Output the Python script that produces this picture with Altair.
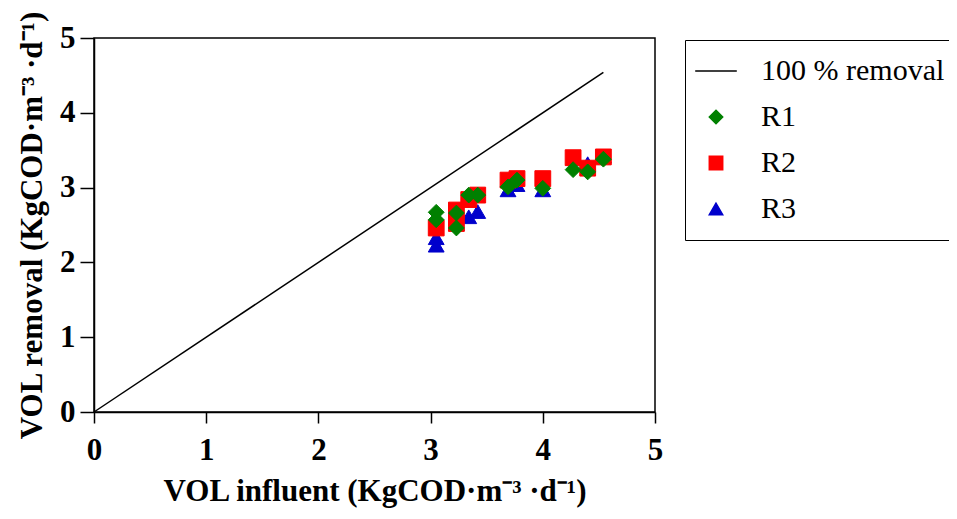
import altair as alt
import pandas as pd

series_names = ["100 % removal", "R1", "R2", "R3"]
series_colors = ["black", "green", "red", "#0000cc"]
series_shapes = ["M-3.1,0H3.1", "diamond", "square", "triangle-up"]

r1_x = [3.05, 3.05, 3.23, 3.23, 3.34, 3.42, 3.69, 3.77, 4.00, 4.27, 4.40, 4.54]
r1_y = [2.57, 2.67, 2.66, 2.46, 2.90, 2.90, 3.01, 3.10, 2.99, 3.24, 3.21, 3.38]

r2_x = [3.05, 3.23, 3.23, 3.34, 3.42, 3.69, 3.77, 4.00, 4.27, 4.40, 4.54]
r2_y = [2.46, 2.70, 2.52, 2.84, 2.90, 3.10, 3.12, 3.12, 3.40, 3.26, 3.41]

r3_x = [3.05, 3.05, 3.23, 3.34, 3.42, 3.69, 3.77, 4.00, 4.40, 4.54]
r3_y = [2.33, 2.23, 2.52, 2.61, 2.68, 2.97, 3.04, 2.97, 3.32, 3.42]

line_x = [0, 4.54]
line_y = [0, 4.54]

ticks = [0, 1, 2, 3, 4, 5]

rows = []
for name, xs, ys in [("R3", r3_x, r3_y), ("R2", r2_x, r2_y), ("R1", r1_x, r1_y)]:
    for a, b in zip(xs, ys):
        rows.append({"series": name, "x": a, "y": b})
pts = pd.DataFrame(rows)
line_df = pd.DataFrame({"x": line_x, "y": line_y})

xscale = alt.Scale(domain=[0, 5], nice=False)
yscale = alt.Scale(domain=[0, 5], nice=False)

FONT = "Liberation Serif"

xaxis = alt.Axis(values=ticks, title="VOL influent (KgCOD·m⁻³ ·d⁻¹)", grid=False,
                 labelFont=FONT, labelFontSize=31, labelFontWeight="bold", labelColor="black",
                 titleFont=FONT, titleFontSize=31, titleFontWeight="bold", titleColor="black",
                 tickSize=11, tickWidth=1.5, tickColor="black", domainColor="black", domainWidth=1.5,
                 labelPadding=12, titlePadding=11, format="d", labelFlush=False, labelOverlap=False)
yaxis = alt.Axis(values=ticks, title="VOL removal (KgCOD·m⁻³ ·d⁻¹)", grid=False,
                 labelFont=FONT, labelFontSize=31, labelFontWeight="bold", labelColor="black",
                 titleFont=FONT, titleFontSize=31, titleFontWeight="bold", titleColor="black",
                 tickSize=14, tickWidth=1.5, tickColor="black", domainColor="black", domainWidth=1.5,
                 labelPadding=5, titlePadding=11, format="d", labelFlush=False, labelOverlap=False)

line = alt.Chart(line_df).mark_line(color="black", strokeWidth=1.5).encode(
    x=alt.X("x:Q", scale=xscale, axis=xaxis),
    y=alt.Y("y:Q", scale=yscale, axis=yaxis),
)

legend = alt.Legend(title=None, orient="none", legendX=591, legendY=2,
                    labelFont=FONT, labelFontSize=30, labelColor="black",
                    symbolSize=180, symbolStrokeWidth=1.5, labelOffset=30,
                    rowPadding=16, padding=16, strokeColor="black",
                    labelLimit=400)

points = alt.Chart(pts).mark_point(filled=True, opacity=1, size=250, strokeWidth=1).encode(
    x=alt.X("x:Q", scale=xscale),
    y=alt.Y("y:Q", scale=yscale),
    fill=alt.Fill("series:N", scale=alt.Scale(domain=series_names, range=series_colors), legend=legend),
    stroke=alt.Stroke("series:N", scale=alt.Scale(domain=series_names, range=series_colors), legend=legend),
    shape=alt.Shape("series:N", scale=alt.Scale(domain=series_names, range=series_shapes), legend=legend),
)

chart = alt.layer(line, points).properties(
    width=561, height=374,
    autosize=alt.AutoSizeParams(type="none"),
    padding={"left": 86, "top": 30, "right": 294, "bottom": 99},
).configure_view(stroke="black", strokeWidth=1.5)

chart.save("out.html", embed_options={"renderer": "svg", "actions": False})
